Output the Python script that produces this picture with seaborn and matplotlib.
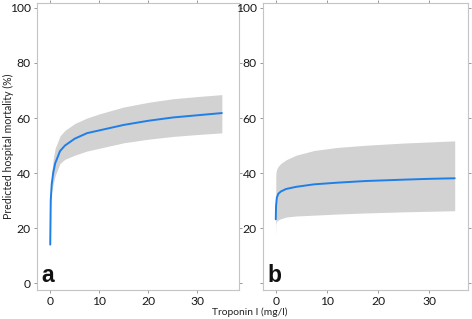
import matplotlib
matplotlib.use("Agg")
import matplotlib.pyplot as plt
import seaborn as sns
import pandas as pd

# Panel a
xa = [0, 0.1, 0.3, 0.6, 1, 2, 3, 5, 7.5, 10, 15, 20, 25, 30, 35]
ya = [14, 30, 36, 40, 43.5, 48, 50, 52.5, 54.5, 55.5, 57.5, 59, 60.2, 61, 61.8]
hia = [15, 32, 40, 45, 49, 53.5, 55.5, 58, 60, 61.5, 64, 65.7, 67, 67.8, 68.5]
loa = [13, 28, 33, 36, 39, 43.5, 45, 46.5, 48, 49, 51, 52.3, 53.3, 54, 54.6]

# Panel b
xb = [0, 0.05, 0.2, 0.5, 1, 2, 4, 7.5, 12, 17.5, 25, 30, 35]
yb = [23.2, 28, 31, 32.5, 33.3, 34.2, 35, 35.9, 36.5, 37.1, 37.6, 37.9, 38.1]
hib = [39, 40.5, 41.5, 42.5, 43.5, 44.8, 46.5, 48.2, 49.3, 50.1, 50.9, 51.3, 51.7]
lob = [17, 21.5, 22.5, 23, 23.4, 24, 24.4, 24.7, 25.1, 25.5, 25.9, 26.1, 26.3]

xticks = [0, 10, 20, 30]
yticks = [0, 20, 40, 60, 80, 100]
ytick_labels_a = ["0", "20", "40", "60", "80", "100"]
ytick_labels_b = ["", "20", "40", "60", "80", "100"]

sns.set_theme(style="white")
plt.rcParams['font.family'] = ['Lato', 'DejaVu Sans']

fig = plt.figure(figsize=(4.72, 3.19), dpi=100)
W, H = 472, 319
axa = fig.add_axes([37 / W, (H - 290) / H, (239 - 37) / W, (290 - 3) / H])
axb = fig.add_axes([263 / W, (H - 290) / H, (468 - 263) / W, (290 - 3) / H])

band_c = "#d2d2d2"
line_c = "#1f7fe8"
spine_c = "#c4c4c4"

panels = [
    (axa, xa, ya, loa, hia, "a", (-2.7, 38.5), ytick_labels_a),
    (axb, xb, yb, lob, hib, "b", (-2.5, 37.6), ytick_labels_b),
]
for ax, x, y, lo, hi, letter, xl, ylabs in panels:
    ax.fill_between(x, lo, hi, color=band_c, lw=0)
    df = pd.DataFrame({"x": x, "y": y})
    sns.lineplot(data=df, x="x", y="y", ax=ax, color=line_c, lw=1.4)
    ax.set_xlim(*xl)
    ax.set_ylim(-2.5, 101.8)
    ax.set_xticks(xticks)
    ax.set_yticks(yticks)
    ax.set_yticklabels(ylabs)
    ax.set_xlabel("")
    ax.set_ylabel("")
    for s in ax.spines.values():
        s.set_color(spine_c)
        s.set_linewidth(0.8)
    ax.tick_params(axis="both", which="both", direction="out", length=2.5,
                   width=0.7, color="#999999", labelsize=8.7, labelcolor="#1a1a1a",
                   pad=2, top=True, right=True, bottom=True, left=True)
    ax.text(0.02, 0.012, letter, transform=ax.transAxes, fontsize=16.5,
            fontweight="bold", family=['Liberation Sans', 'DejaVu Sans'],
            color="#111111", ha="left", va="bottom")

fig.text(8 / W, 1 - 146.5 / H, "Predicted hospital mortality (%)", rotation=90,
         ha="center", va="center", fontsize=7.6, color="#222222")
fig.text(250 / W, 1 - 312 / H, "Troponin I (mg/l)", ha="center", va="center",
         fontsize=7.4, color="#222222")

fig.savefig("out.png", dpi=100)
